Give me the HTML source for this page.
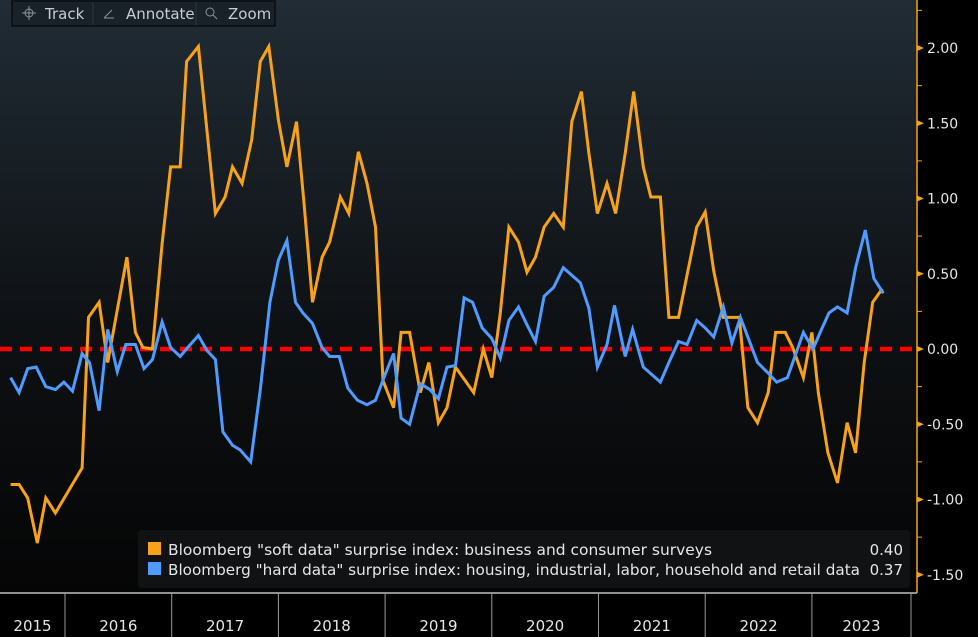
<!DOCTYPE html>
<html><head><meta charset="utf-8"><style>
html,body{margin:0;padding:0;background:#000;}
#wrap{position:relative;width:978px;height:637px;overflow:hidden;font-family:"Liberation Sans",sans-serif;}
svg text{font-family:"Liberation Sans",sans-serif;}
svg text.dv{font-family:"DejaVu Sans","Liberation Sans",sans-serif;}
</style></head><body>
<div id="wrap">
<svg id="chart" width="978" height="637" viewBox="0 0 978 637">
<defs>
<linearGradient id="bg" x1="0" y1="0" x2="0" y2="1">
<stop offset="0" stop-color="#212c35"/>
<stop offset="0.55" stop-color="#0e1114"/>
<stop offset="1" stop-color="#050505"/>
</linearGradient>
</defs>
<rect x="0" y="0" width="978" height="637" fill="#000"/>
<rect x="0" y="0" width="917" height="593" fill="url(#bg)"/>
<g id="xaxis"></g>
<g id="yaxis"></g>
<g id="series"></g>
<g>
<rect x="138" y="530" width="772" height="58" rx="3" fill="#101214"/>
<rect x="148" y="542" width="13" height="13" fill="#f7a21b"/>
<text class="dv" x="168" y="555" fill="#e6e6e6" font-size="15" textLength="544" lengthAdjust="spacingAndGlyphs">Bloomberg "soft data" surprise index: business and consumer surveys</text>
<text class="dv" x="903" y="555" fill="#e6e6e6" font-size="15" text-anchor="end">0.40</text>
<rect x="148" y="562" width="13" height="13" fill="#4f9bff"/>
<text class="dv" x="168" y="575" fill="#e6e6e6" font-size="15" textLength="692" lengthAdjust="spacingAndGlyphs">Bloomberg "hard data" surprise index: housing, industrial, labor, household and retail data</text>
<text class="dv" x="903" y="575" fill="#e6e6e6" font-size="15" text-anchor="end">0.37</text>
</g>
<g>
<rect x="12" y="1" width="263" height="25" fill="#1a2229" stroke="#0a0d10" stroke-width="1.5"/>
<line x1="93" y1="2" x2="93" y2="25" stroke="#2c363e"/>
<line x1="196" y1="2" x2="196" y2="25" stroke="#2c363e"/>
<g>
<circle cx="29" cy="13" r="4" fill="none" stroke="#8a949c" stroke-width="1"/>
<line x1="22" y1="13" x2="36" y2="13" stroke="#8a949c"/><line x1="29" y1="6" x2="29" y2="20" stroke="#8a949c"/>
<text class="dv" x="45" y="19" fill="#c8cdd1" font-size="15">Track</text>
</g>
<g>
<line x1="104" y1="18" x2="112" y2="10" stroke="#8a949c"/><line x1="104" y1="18" x2="114" y2="18" stroke="#8a949c"/>
<text class="dv" x="126" y="19" fill="#c8cdd1" font-size="15">Annotate</text>
</g>
<g>
<circle cx="210" cy="12" r="4" fill="none" stroke="#8a949c"/><line x1="213" y1="15" x2="217" y2="19" stroke="#8a949c"/>
<text class="dv" x="228" y="19" fill="#c8cdd1" font-size="15">Zoom</text>
</g>
</g>
</svg>
</div>
<script>
const yTicks = [2.0, 1.5, 1.0, 0.5, 0.0, -0.5, -1.0, -1.5];
const yTickLabels = ["2.00","1.50","1.00","0.50","0.00","-0.50","-1.00","-1.50"];
const years = [2015, 2016, 2017, 2018, 2019, 2020, 2021, 2022, 2023];
const yearLabels = ["2015","2016","2017","2018","2019","2020","2021","2022","2023"];
const softDates = [2015.49,2015.57,2015.65,2015.74,2015.82,2015.91,2016.16,2016.22,2016.32,2016.40,2016.58,2016.66,2016.73,2016.82,2016.91,2016.99,2017.08,2017.14,2017.25,2017.41,2017.50,2017.57,2017.66,2017.75,2017.83,2017.91,2018.00,2018.08,2018.17,2018.24,2018.32,2018.41,2018.48,2018.58,2018.66,2018.75,2018.83,2018.91,2018.98,2019.08,2019.15,2019.23,2019.33,2019.41,2019.50,2019.58,2019.66,2019.83,2019.92,2020.00,2020.08,2020.16,2020.25,2020.33,2020.41,2020.49,2020.58,2020.67,2020.75,2020.84,2020.91,2020.99,2021.08,2021.16,2021.25,2021.33,2021.42,2021.49,2021.58,2021.66,2021.75,2021.92,2022.00,2022.08,2022.17,2022.32,2022.40,2022.49,2022.59,2022.66,2022.75,2022.82,2022.92,2023.00,2023.06,2023.15,2023.24,2023.33,2023.41,2023.49,2023.57,2023.66];
const softValues = [-0.90,-0.90,-0.99,-1.29,-0.99,-1.09,-0.79,0.21,0.31,-0.09,0.61,0.11,0.01,0.00,0.70,1.21,1.21,1.91,2.01,0.90,1.01,1.21,1.10,1.39,1.91,2.01,1.52,1.21,1.51,0.97,0.31,0.61,0.71,1.01,0.90,1.31,1.10,0.81,-0.21,-0.39,0.11,0.11,-0.29,-0.09,-0.49,-0.39,-0.12,-0.29,0.00,-0.19,0.24,0.81,0.71,0.51,0.61,0.81,0.90,0.81,1.51,1.71,1.30,0.90,1.10,0.90,1.30,1.71,1.21,1.01,1.01,0.21,0.21,0.81,0.91,0.52,0.21,0.21,-0.39,-0.49,-0.29,0.11,0.11,0.01,-0.19,0.11,-0.29,-0.69,-0.89,-0.49,-0.69,-0.09,0.31,0.40];
const hardDates = [2015.49,2015.57,2015.65,2015.73,2015.82,2015.91,2015.99,2016.07,2016.16,2016.23,2016.32,2016.40,2016.49,2016.57,2016.66,2016.74,2016.82,2016.91,2016.99,2017.08,2017.15,2017.25,2017.33,2017.41,2017.48,2017.57,2017.64,2017.74,2017.83,2017.92,2018.00,2018.08,2018.16,2018.23,2018.32,2018.41,2018.48,2018.57,2018.65,2018.74,2018.83,2018.91,2019.00,2019.08,2019.15,2019.23,2019.33,2019.42,2019.50,2019.58,2019.66,2019.74,2019.82,2019.91,2020.00,2020.08,2020.16,2020.25,2020.33,2020.41,2020.49,2020.58,2020.67,2020.83,2020.91,2020.99,2021.08,2021.15,2021.25,2021.32,2021.42,2021.58,2021.66,2021.75,2021.83,2021.92,2022.00,2022.08,2022.17,2022.25,2022.33,2022.49,2022.59,2022.67,2022.77,2022.92,2023.01,2023.09,2023.16,2023.24,2023.33,2023.41,2023.50,2023.58,2023.67];
const hardValues = [-0.19,-0.29,-0.13,-0.12,-0.25,-0.27,-0.22,-0.28,-0.03,-0.09,-0.41,0.13,-0.15,0.03,0.03,-0.13,-0.07,0.18,0.01,-0.05,0.01,0.09,-0.01,-0.07,-0.55,-0.64,-0.67,-0.75,-0.27,0.31,0.59,0.72,0.31,0.24,0.17,0.01,-0.05,-0.05,-0.26,-0.34,-0.37,-0.34,-0.17,-0.03,-0.46,-0.50,-0.23,-0.27,-0.33,-0.12,-0.11,0.34,0.31,0.14,0.07,-0.06,0.19,0.28,0.16,0.05,0.35,0.41,0.54,0.44,0.27,-0.12,0.03,0.29,-0.05,0.13,-0.12,-0.22,-0.09,0.05,0.03,0.19,0.14,0.08,0.28,0.04,0.21,-0.09,-0.16,-0.22,-0.19,0.11,0.00,0.13,0.24,0.28,0.24,0.54,0.79,0.47,0.37];

const NS = "http://www.w3.org/2000/svg";
function xScale(t){ return 65 + (t - 2016) * 106.7; }
function yScale(v){ return 349 - v * 150.5; }
function mk(tag, attrs, parent){ const e = document.createElementNS(NS, tag); for (const k in attrs) e.setAttribute(k, attrs[k]); parent.appendChild(e); return e; }

const xg = document.getElementById('xaxis');
const yg = document.getElementById('yaxis');
const sg = document.getElementById('series');

const base = mk('line', {x1:0, y1:593, x2:917, y2:593, stroke:'#bfbfbf', 'stroke-width':1.5}, xg);


years.forEach((yr, i) => {
  const x0 = xScale(yr), x1 = xScale(yr + 1);
  if (yr > 2015) {
    const l = mk('line', {x1:x0, y1:593, x2:x0, y2:637, stroke:'#9a9a9a', 'stroke-width':1}, xg);
    
    
  }
  const cx = yr === 2015 ? (Math.max(0, x0) + x1) / 2 : (x0 + Math.min(x1, 911)) / 2;
  const t = mk('text', {x:cx, y:631, fill:'#e6e6e6', 'font-size':15, 'text-anchor':'middle', 'class':'dv'}, xg);
  t.textContent = yearLabels[i];
  
  
});
const endDiv = mk('line', {x1:911, y1:593, x2:911, y2:637, stroke:'#9a9a9a'}, xg);



const yl = mk('line', {x1:917, y1:0, x2:917, y2:593, stroke:'#f7a21b', 'stroke-width':1.5}, yg);


for (let v = -1.75; v <= 2.26; v += 0.25) {
  const y = yScale(v);
  if (y < 0 || y > 593) continue;
  const tk = mk('line', {x1:917, y1:y, x2:922, y2:y, stroke:'#f7a21b', 'stroke-width':1}, yg);
  
  
}
yTicks.forEach((v, i) => {
  const y = yScale(v);
  const p = mk('polygon', {points:`917,${y-3} 924,${y} 917,${y+3}`, fill:'#f7a21b'}, yg);
  
  
  const t = mk('text', {x:927, y:y+5, fill:'#e6e6e6', 'font-size':14, 'class':'dv'}, yg);
  t.textContent = yTickLabels[i];
  
  
});

const z = mk('line', {x1:0, y1:yScale(0), x2:917, y2:yScale(0), stroke:'#ff0000', 'stroke-width':4.5, 'stroke-dasharray':'12 8'}, sg);



function path(dates, vals){ return dates.map((d,i)=>(i?'L':'M')+xScale(d).toFixed(1)+' '+yScale(vals[i]).toFixed(1)).join(' '); }
const soft = mk('path', {d:path(softDates, softValues), fill:'none', stroke:'#f7a21b', 'stroke-width':3, 'stroke-linejoin':'miter'}, sg);


const hard = mk('path', {d:path(hardDates, hardValues), fill:'none', stroke:'#4f9bff', 'stroke-width':3, 'stroke-linejoin':'miter'}, sg);


</script>
</body></html>
